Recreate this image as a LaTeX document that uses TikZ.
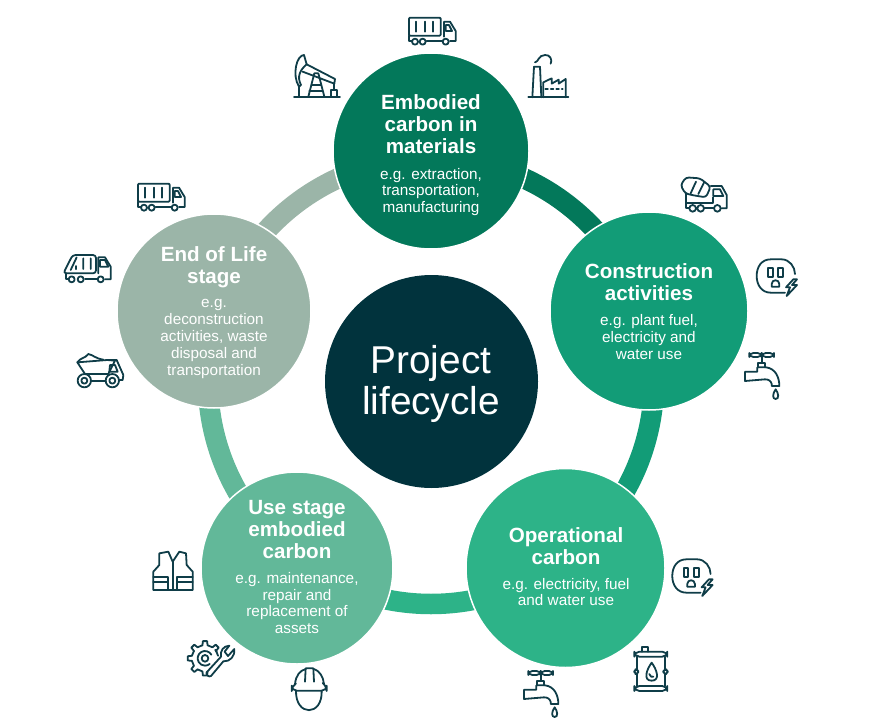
\documentclass[tikz,border=0pt]{standalone}
\usepackage{fontspec}
\setmainfont{Liberation Sans}
\definecolor{cA}{HTML}{03785A}
\definecolor{cB}{HTML}{129C77}
\definecolor{cC}{HTML}{2DB388}
\definecolor{cD}{HTML}{62B899}
\definecolor{cE}{HTML}{9BB5A8}
\definecolor{cM}{HTML}{01333D}
\definecolor{ink}{HTML}{0F3D48}
\tikzset{
  disc/.style={circle,inner sep=0pt,minimum size=#1,fill,draw=white,line width=1.5pt},
  ttl/.style={text=white,inner sep=0pt,align=center,font=\fontsize{20.6}{22}\selectfont\bfseries},
  bdy/.style={text=white,inner sep=0pt,align=center,font=\fontsize{15.3}{16.8}\selectfont},
  band/.style={line width=20.5pt,line cap=butt},
  ic/.style={scale=.33333,line width=1.8pt,draw=ink,line join=round,line cap=round},
  pics/truck/.style={code={
    \draw[rounded corners=1pt] (387,38) rectangle (482,92);
    \draw (408,50)--(408,80) (435,50)--(435,80) (460,50)--(460,80);
    \draw (492,95)--(492,50)--(510,50)--(527,78)--(527,108)--(510,108);
    \draw (497,60)--(507,60)--(516,78)--(497,78)--cycle;
    \draw (387,92)--(387,108)--(395,108) (440,108)--(487,108);
    \draw (405,110) circle (9) (428,110) circle (9) (497,110) circle (9);
  }},
  pics/factory/.style={code={
    \draw (745,277)--(865,277);
    \draw (757,277)--(762,185)--(780,185)--(784,277);
    \draw (765,172) .. controls (775,172) and (775,150) .. (795,150) .. controls (810,148) and (818,165) .. (812,176);
    \draw (790,277)--(790,232)--(815,220)--(815,236)--(836,224)--(836,236)--(857,222)--(857,277);
    \draw[dash pattern=on 2.5pt off 3pt] (796,252)--(848,252);
  }},
  pics/pumpjack/.style={code={
    \draw (42,275)--(180,275);
    \draw (72,150) .. controls (50,150) and (35,210) .. (57,245) -- (63,240) .. controls (50,215) and (60,195) .. (80,178) -- cycle;
    \draw (80,178)--(165,222)--(163,236)--(68,200);
    \draw (57,245)--(57,275) (162,236)--(162,255);
    \draw (85,275)--(103,205)--(115,205)--(133,275);
    \draw (95,240)--(122,240) (88,258)--(128,258);
    \draw (152,255) rectangle (170,275);
  }},
  pics/mixer/.style={code={
    \draw[rounded corners=3pt] (32,45)--(48,22)--(90,25)--(122,50)--(108,82)--(70,76)--(45,70)--cycle;
    \draw (78,35)--(62,70) (103,36)--(85,72);
    \draw (122,48)--(155,48)--(170,75)--(170,115)--(155,115);
    \draw (130,58)--(150,58)--(160,78)--(130,78)--cycle;
    \draw (128,82)--(128,100)--(48,100) (48,70)--(48,115)--(56,115) (104,115)--(130,115);
    \draw (68,115) circle (10) (92,115) circle (10) (142,115) circle (10);
  }},
  pics/outlet/.style={code={
    \draw (345,368)--(302,368) .. controls (275,368) and (260,345) .. (260,318) .. controls (260,290) and (275,268) .. (302,268) -- (335,268) .. controls (358,268) and (375,290) .. (375,312);
    \draw (295,293) rectangle (308,320) (325,293) rectangle (339,320);
    \draw (305,350)--(305,342) .. controls (306,327) and (327,327) .. (328,342) -- (328,350) -- cycle;
    \draw (370,328)--(348,352)--(360,352)--(350,378)--(381,345)--(366,345)--(381,328)--cycle;
  }},
  pics/tap/.style={code={
    \draw[rounded corners=4pt] (238,549) rectangle (275,561);
    \draw[rounded corners=4pt] (275,549) rectangle (312,561);
    \draw (275,561)--(275,578);
    \draw (265,592)--(265,578)--(285,578)--(285,592);
    \draw (225,605)--(262,605)--(262,592)--(288,592) .. controls (315,595) and (328,620) .. (328,648) -- (305,648) -- (305,642) .. controls (303,632) and (295,628) .. (285,628) -- (225,633) -- cycle;
    \draw (317,658) .. controls (308,670) and (306,687) .. (317,687) .. controls (328,687) and (326,670) .. (317,658) -- cycle;
  }},
  pics/garbage/.style={code={
    \draw[rounded corners=3pt] (40,310)--(68,255)--(138,255)--(138,310)--cycle;
    \draw (80,262)--(62,300) (78,288)--(78,298) (100,265)--(100,297) (122,265)--(122,297);
    \draw (145,310)--(145,262)--(165,262)--(182,290)--(182,328)--(165,328);
    \draw (150,270)--(165,270)--(175,290)--(150,290)--cycle;
    \draw (48,310)--(48,328)--(55,328) (105,326)--(140,326);
    \draw (65,328) circle (9) (92,328) circle (9) (152,328) circle (9);
  }},
  pics/dumper/.style={code={
    \draw (82,577)--(172,570)--(195,572)--(175,612)--(105,612)--cycle;
    \draw (82,577) .. controls (92,562) and (105,566) .. (115,552) .. controls (130,555) and (135,565) .. (160,569);
    \draw (172,570)--(200,570)--(220,615)--(218,630)--(208,630);
    \draw (180,585)--(195,585)--(203,605)--(178,605)--cycle;
    \draw (122,632)--(167,632);
    \draw (103,632) circle (20) (103,632) circle (9) (187,632) circle (20) (187,632) circle (9);
  }},
  pics/vest/.style={code={
    \draw (40,150)--(40,95)--(58,75)--(58,40)--(85,35)--(98,65)--(118,35)--(138,40)--(140,75)--(158,95)--(158,150)--cycle;
    \draw (98,65)--(98,150);
    \draw (40,110)--(85,110)--(85,125)--(40,125) (158,110)--(112,110)--(112,125)--(158,125);
    \draw (85,125)--(85,150) (112,125)--(112,150);
  }},
  pics/gearwrench/.style={code={
    \begin{scope}[shift={(195,355)}]
      \draw (-40:40) arc[start angle=-40,end angle=-28,radius=40];
      \foreach \a in {90,135,180,225,270,-45}{
        \draw (\a-11:40)--(\a-7:52)--(\a+7:52)--(\a+11:40)--(\a+34:40);
      }
      \draw (0,0) circle (10);
      \draw (-30:22) arc[start angle=-30,end angle=-310,radius=22];
    \end{scope}
    \draw (200,397)--(243,350) .. controls (240,332) and (250,318) .. (268,317) -- (254,335) -- (264,348) -- (283,327) .. controls (285,350) and (270,365) .. (250,364) -- (213,408) .. controls (207,413) and (196,403) .. (200,397) -- cycle;
  }},
  pics/helmet/.style={code={
    \draw[rounded corners=5pt] (465,432)--(455,438)--(455,452)--(560,452)--(560,438)--(552,432);
    \draw (465,432) .. controls (468,405) and (480,392) .. (497,387);
    \draw (522,387) .. controls (538,392) and (550,410) .. (552,432);
    \draw (495,425)--(497,385)--(520,385)--(522,425);
    \draw (468,452) .. controls (466,530) and (548,530) .. (545,452);
  }},
  pics/barrel/.style={code={
    \draw[rounded corners=5pt] (373,305) rectangle (472,320);
    \draw[rounded corners=5pt] (373,408) rectangle (472,423);
    \draw (395,305)--(395,292)--(415,292)--(415,305);
    \draw (380,320)--(380,358) (380,372)--(380,408) (465,320)--(465,358) (465,372)--(465,408);
    \draw[rounded corners=3pt] (373,358) rectangle (385,372);
    \draw[rounded corners=3pt] (460,358) rectangle (473,372);
    \draw (425,338) .. controls (410,358) and (398,392) .. (425,392) .. controls (452,392) and (440,358) .. (425,338) -- cycle;
    \draw (418,372) .. controls (420,380) and (425,382) .. (430,380);
  }},
}
\begin{document}
\begin{tikzpicture}[x=1pt,y=-1pt]
\useasboundingbox (0,0) rectangle (878,720);
\coordinate (hub) at (431,381);
\draw[band,cA] ([shift={(-90:223)}]hub) arc[start angle=-90,end angle=-18,radius=223];
\draw[band,cB] ([shift={(-18:223)}]hub) arc[start angle=-18,end angle=54,radius=223];
\draw[band,cC] ([shift={(54:223)}]hub) arc[start angle=54,end angle=126,radius=223];
\draw[band,cD] ([shift={(126:223)}]hub) arc[start angle=126,end angle=198,radius=223];
\draw[band,cE] ([shift={(198:223)}]hub) arc[start angle=198,end angle=270,radius=223];

\node[disc=196pt,fill=cA] (top) at (431,151) {};
\node[disc=198pt,fill=cB] (right) at (649,311) {};
\node[disc=199pt,fill=cC] (brc) at (565.5,568) {};
\node[disc=192pt,fill=cD] (blc) at (297,568) {};
\node[disc=194pt,fill=cE] (left) at (214,311) {};
\node[disc=213pt,fill=cM,draw=none] (mid) at (431.5,381.5) {};

\node[text=white,inner sep=0pt,align=center,font=\fontsize{38.8}{41}\selectfont] (midt) at (431,384) {Project\\lifecycle};

\node[ttl] (t1) at (431,124) {Embodied\\carbon in\\materials};
\node[bdy] (b1) at (431,192) {e.g. extraction,\\transportation,\\manufacturing};
\node[ttl] (t2) at (649,282) {Construction\\activities};
\node[bdy] (b2) at (649,337) {e.g. plant fuel,\\electricity and\\water use};
\node[ttl] (t3) at (566,546) {Operational\\carbon};
\node[bdy] (b3) at (566,592) {e.g. electricity, fuel\\and water use};
\node[ttl] (t4) at (297,530) {Use stage\\embodied\\carbon};
\node[bdy] (b4) at (297,603) {e.g. maintenance,\\repair and\\replacement of\\assets};
\node[ttl] (t5) at (214,267) {End of Life\\stage};
\node[bdy] (b5) at (214,339) {e.g.\\deconstruction\\activities, waste\\disposal and\\transportation};

\pic[ic] at (280,5) {truck};
\pic[ic] at (280,5) {factory};
\pic[ic] at (280,5) {pumpjack};
\pic[ic] at (670,170) {mixer};
\pic[ic] at (670,170) {outlet};
\pic[ic] at (670,170) {tap};
\pic[ic] at (50,170) {garbage};
\pic[ic] at (50,170) {dumper};
\pic[ic] at (9,171) {truck};
\pic[ic] at (140,540) {vest};
\pic[ic] at (140,540) {gearwrench};
\pic[ic] at (140,540) {helmet};
\pic[ic] at (510,550) {barrel};
\pic[ic] at (585.6,470) {outlet};
\pic[ic] at (449,488) {tap};
\end{tikzpicture}
\end{document}
